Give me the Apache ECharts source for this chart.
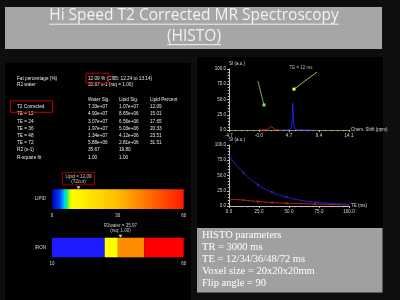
<!DOCTYPE html>
<html><head><meta charset="utf-8">
<script src="https://cdn.jsdelivr.net/npm/echarts@6/dist/echarts.min.js"></script>
<style>html,body{margin:0;padding:0;background:#0e0e0e;}#c{width:400px;height:300px;}</style>
</head><body><div id="c"></div>
<script>
// ---------------- text content ----------------
const titleLines = ['Hi Speed T2 Corrected MR Spectroscopy', '(HISTO)'];
const fatSummary = ['Fat percentage (%)', '12.09 % (CI95: 12.24 to 13.14)'];
const r2Summary = ['R2 water', '35.97 s-1 (rsq = 1.00)'];
const tableHeaders = ['Water Sig.', 'Lipid Sig.', 'Lipid Percent'];
const rowLabels = ['T2 Corrected', 'TE = 12', 'TE = 24', 'TE = 36', 'TE = 48', 'TE = 72', 'R2 (s-1)', 'R-square fit'];
const waterSig = ['7.33e+07', '4.90e+07', '3.07e+07', '1.97e+07', '1.34e+07', '5.88e+06', '35.67', '1.00'];
const lipidSig = ['1.07e+07', '8.65e+06', '6.56e+06', '5.03e+06', '4.12e+06', '2.81e+06', '19.80', '1.00'];
const lipidPct = ['12.09', '15.01', '17.65', '20.33', '23.51', '31.51', '', ''];
const paramLines = ['HISTO parameters', 'TR = 3000 ms', 'TE = 12/34/36/48/72 ms', 'Voxel size = 20x20x20mm', 'Flip angle = 90'];

// ---------------- spectrum (ppm, SI) ----------------
const specXRange = [-4.7, 14.1];
const specXStep = 4.7;
const specYRange = [0, 100];
const waterPeak = [[3.3,0],[4.5,0.4],[4.9,1.5],[5.1,6],[5.2,18],[5.3,44],[5.4,18],[5.5,6],[5.7,1.5],[6.1,0.4],[8.8,0]];
const lipidPeak = [[0.0,0],[1.0,0.3],[1.4,1.5],[1.7,4],[1.9,6],[2.1,4],[2.4,1.5],[2.8,0.3],[3.3,0]];
const greenArrow = [[-0.16,80],[0.78,41]];
const yellowArrow = [[9.09,95],[5.48,67]];
const arrowText = 'TE = 12 ms';

// ---------------- T2 decay (TE ms, SI) ----------------
const teCurve = [0, 12, 24, 36, 48, 60, 72, 84, 100];
const waterCurve = [82, 55, 35, 22.5, 14.5, 9.3, 6.3, 4.3, 2.7];
const lipidCurve = [11.3, 9.7, 7.4, 5.6, 4.6, 3.8, 3.1, 2.5, 1.7];
const teMeasured = [12, 24, 36, 48, 72];
const waterMeasured = [55, 35, 22.5, 14.5, 6.3];
const lipidMeasured = [9.7, 7.4, 5.6, 4.6, 3.1];

// ---------------- colour bars ----------------
const lipidScale = [0, 30, 60];
const lipidValue = 12.09;
const lipidLabel = 'Lipid = 12.09\n(T2cor)';
const ironScale = [10, 60];
const ironBreaks = [10, 30, 35, 45, 60];
const ironValue = 35.97;
const ironLabel = 'R2water = 35.97\n(rsq: 1.00)';

// ---------------- build ----------------
const chart = echarts.init(document.getElementById('c'));
const axCol = '#bdbdbd', lblCol = '#d8d8d8', fs = 4.5;

function measure(txt, font) {
  const ctx = document.createElement('canvas').getContext('2d');
  ctx.font = font; return ctx.measureText(txt).width;
}

const g = [];
g.push({type:'rect', shape:{x:5,y:63,width:186,height:237}, style:{fill:'#000'}, z:-100});
g.push({type:'rect', shape:{x:197,y:57,width:186,height:171}, style:{fill:'#000'}, z:-100});
g.push({type:'rect', shape:{x:5,y:7,width:377,height:42}, style:{fill:'#a6a6a6'}, z:-90});
const tFont = '15.5px "Open Sans"';
[[15.5,24.2],[36.2,44.6]].forEach((p, i) => {
  g.push({type:'text', x:194, y:p[0], style:{text:titleLines[i], fill:'#f2f2f2', font:tFont, align:'center', verticalAlign:'middle'}});
  const w = measure(titleLines[i], tFont);
  g.push({type:'line', shape:{x1:194-w/2, y1:p[1], x2:194+w/2, y2:p[1]}, style:{stroke:'#f2f2f2', lineWidth:1}});
});
// table
const tf = '4.7px "Liberation Sans"', tc = '#e6e6e6';
function txt(x, y, s) { g.push({type:'text', x:x, y:y, style:{text:s, fill:tc, font:tf, verticalAlign:'middle'}}); }
txt(17, 78.3, fatSummary[0]); txt(88, 78.3, fatSummary[1]);
txt(17, 85, r2Summary[0]); txt(88, 85, r2Summary[1]);
const colX = [88, 119, 150];
tableHeaders.forEach((h, i) => txt(colX[i], 100, h));
rowLabels.forEach((r, i) => {
  const y = 107 + i * 7.18;
  txt(17, y, r); txt(colX[0], y, waterSig[i]); txt(colX[1], y, lipidSig[i]); txt(colX[2], y, lipidPct[i]);
});
g.push({type:'rect', shape:{x:86,y:73.2,width:22.5,height:10}, style:{fill:null, stroke:'#c00000', lineWidth:1}});
g.push({type:'rect', shape:{x:10.5,y:100.8,width:42,height:11.5}, style:{fill:null, stroke:'#c00000', lineWidth:1}});
// parameters box
g.push({type:'rect', shape:{x:197,y:228,width:185.5,height:64.5}, style:{fill:'#a0a0a0'}, z:-90});
paramLines.forEach((s, i) => {
  g.push({type:'text', x:202, y:235.5 + i * 11.9, style:{text:s, fill:'#ffffff', font:'10.5px "Liberation Serif"', verticalAlign:'middle'}});
});

function baseAxis(extra) {
  return Object.assign({
    axisLine:{show:true, onZero:false, lineStyle:{color:axCol, width:1}},
    axisTick:{show:true, length:2, lineStyle:{color:axCol}},
    minorTick:{show:true, splitNumber:5, length:1.2, lineStyle:{color:axCol}},
    axisLabel:{color:lblCol, fontSize:fs, margin:3},
    splitLine:{show:false},
    nameTextStyle:{color:lblCol, fontSize:fs}
  }, extra);
}

const option = {
  backgroundColor:'transparent',
  animation:false,
  textStyle:{fontFamily:'Liberation Sans'},
  graphic:{elements:g},
  grid:[
    {left:229, top:69, width:120, height:61},
    {left:229, top:145, width:120, height:61},
    {left:52, top:189.3, width:131.7, height:19.7},
    {left:52, top:237.7, width:131.7, height:19.6}
  ],
  xAxis:[
    baseAxis({gridIndex:0, type:'value', min:specXRange[0], max:specXRange[1], interval:specXStep,
      name:'Chem. Shift (ppm)', nameLocation:'end', nameGap:2,
      axisLine:{show:true, onZero:false, lineStyle:{color:'#8a8a55', width:1}},
      axisLabel:{color:lblCol, fontSize:fs, margin:3, formatter:v => Math.abs(v) < 1e-9 ? '-0.0' : v.toFixed(1)}}),
    baseAxis({gridIndex:1, type:'value', min:0, max:100, interval:25, name:'TE (ms)', nameLocation:'end', nameGap:2,
      axisLabel:{color:lblCol, fontSize:fs, margin:3, formatter:v => v.toFixed(1)}}),
    baseAxis({gridIndex:2, type:'value', min:lipidScale[0], max:lipidScale[lipidScale.length-1],
      axisLine:{show:false}, axisTick:{show:false}, minorTick:{show:false},
      axisLabel:{color:lblCol, fontSize:fs, margin:4, customValues:lipidScale}}),
    baseAxis({gridIndex:3, type:'value', min:ironScale[0], max:ironScale[1],
      axisLine:{show:false}, axisTick:{show:false}, minorTick:{show:false},
      axisLabel:{color:lblCol, fontSize:fs, margin:4, customValues:ironScale}})
  ],
  yAxis:[
    baseAxis({gridIndex:0, type:'value', min:specYRange[0], max:specYRange[1], interval:25, name:'SI (a.u.)',
      nameLocation:'end', nameGap:3, nameTextStyle:{color:lblCol, fontSize:fs, align:'left'},
      axisLabel:{color:lblCol, fontSize:fs, margin:3, formatter:v => v.toFixed(1)}}),
    baseAxis({gridIndex:1, type:'value', min:0, max:100, interval:25, name:'SI (a.u.)',
      nameLocation:'end', nameGap:3, nameTextStyle:{color:lblCol, fontSize:fs, align:'left'},
      axisLabel:{color:lblCol, fontSize:fs, margin:3, formatter:v => v.toFixed(1)}}),
    {gridIndex:2, type:'category', data:['LIPID'], axisLine:{show:false}, axisTick:{show:false},
      axisLabel:{color:lblCol, fontSize:fs, margin:6}},
    {gridIndex:3, type:'category', data:['IRON'], axisLine:{show:false}, axisTick:{show:false},
      axisLabel:{color:lblCol, fontSize:fs, margin:6}},
    {gridIndex:2, type:'value', min:0, max:1, show:false},
    {gridIndex:3, type:'value', min:0, max:1, show:false}
  ],
  series:[
    {type:'line', xAxisIndex:0, yAxisIndex:0, data:lipidPeak, symbol:'none', lineStyle:{color:'#c42020', width:1}},
    {type:'line', xAxisIndex:0, yAxisIndex:0, data:waterPeak, symbol:'none', lineStyle:{color:'#2020d8', width:1}},
    {type:'line', xAxisIndex:0, yAxisIndex:0, lineStyle:{color:'#7fa83a', width:1}, itemStyle:{color:'#7fe04a'},
      symbol:'rect', symbolSize:3, showAllSymbol:true,
      data:[{value:greenArrow[0], symbol:'none'}, {value:greenArrow[1]}]},
    {type:'line', xAxisIndex:0, yAxisIndex:0, lineStyle:{color:'#b8b832', width:1}, itemStyle:{color:'#ffff20'},
      symbol:'rect', symbolSize:3, showAllSymbol:true,
      data:[{value:yellowArrow[0], symbol:'none'}, {value:yellowArrow[1]}]},
    {type:'scatter', xAxisIndex:0, yAxisIndex:0, symbolSize:1, itemStyle:{color:'rgba(0,0,0,0)'}, clip:false,
      data:[yellowArrow[0]],
      label:{show:true, position:'left', distance:4, offset:[0,-4], formatter:arrowText, color:lblCol, fontSize:fs}},
    {type:'line', xAxisIndex:1, yAxisIndex:1, smooth:true, symbol:'none',
      data:teCurve.map((t,i)=>[t, lipidCurve[i]]), lineStyle:{color:'#c02020', width:1}},
    {type:'line', xAxisIndex:1, yAxisIndex:1, smooth:true, symbol:'none',
      data:teCurve.map((t,i)=>[t, waterCurve[i]]), lineStyle:{color:'#2222d0', width:1}},
    {type:'scatter', xAxisIndex:1, yAxisIndex:1, symbolSize:2.5, itemStyle:{color:'#c02020'},
      data:teMeasured.map((t,i)=>[t, lipidMeasured[i]])},
    {type:'scatter', xAxisIndex:1, yAxisIndex:1, symbolSize:2.5, itemStyle:{color:'#2222d0'},
      data:teMeasured.map((t,i)=>[t, waterMeasured[i]])},
    {type:'bar', xAxisIndex:2, yAxisIndex:2, barWidth:'100%', data:[lipidScale[lipidScale.length-1]],
      itemStyle:{color:new echarts.graphic.LinearGradient(0,0,1,0,[
        {offset:0, color:'#0000a8'},{offset:0.06, color:'#0040ff'},{offset:0.095, color:'#00c8ff'},
        {offset:0.115, color:'#00ff70'},{offset:0.13, color:'#b0ff00'},{offset:0.15, color:'#ffff00'},
        {offset:0.5, color:'#ffbb00'},{offset:1, color:'#ff1800'}])}},
    ...ironBreaks.slice(1).map((b, i) => ({
      type:'bar', xAxisIndex:3, yAxisIndex:3, stack:'iron', barWidth:'100%', clip:true,
      data:[i === 0 ? b : b - ironBreaks[i]],
      itemStyle:{color:['#1c1cff','#ffff00','#ff8c00','#ff0000'][i]}
    })),
    {type:'scatter', xAxisIndex:2, yAxisIndex:4, symbol:'triangle', symbolRotate:180, symbolSize:[4,3],
      symbolOffset:[0,-1.5], itemStyle:{color:'#ffffff'}, clip:false,
      data:[[lipidValue, 1]],
      label:{show:true, position:'top', distance:1.5, formatter:lipidLabel, color:'#f0f0f0', fontSize:fs, lineHeight:5,
        align:'center', borderColor:'#c00000', borderWidth:1, padding:[1.5,3,1,3]}},
    {type:'scatter', xAxisIndex:3, yAxisIndex:5, symbol:'triangle', symbolRotate:180, symbolSize:[4,3],
      symbolOffset:[0,-1.5], itemStyle:{color:'#ffffff'}, clip:false,
      data:[[ironValue, 1]],
      label:{show:true, position:'top', distance:1.5, formatter:ironLabel, color:'#f0f0f0', fontSize:fs, lineHeight:5,
        align:'center'}}
  ]
};
chart.setOption(option);
</script></body></html>
